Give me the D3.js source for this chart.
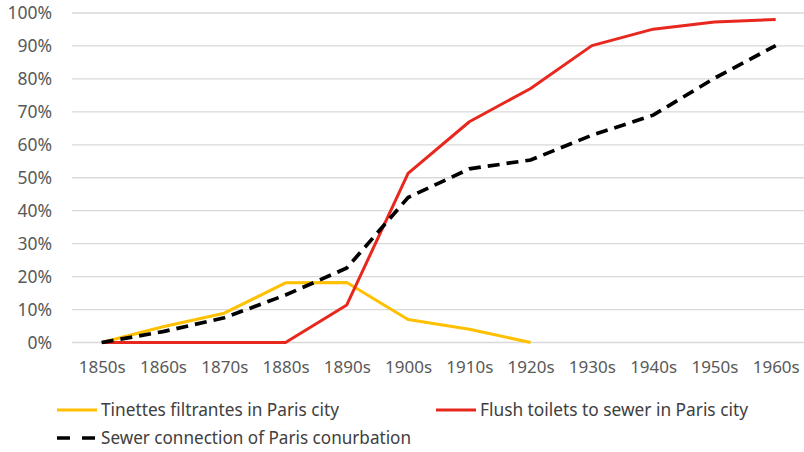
<!DOCTYPE html>
<html><head><meta charset="utf-8">
<script src="https://cdn.jsdelivr.net/npm/d3@7"></script>
<style>body{margin:0;background:#fff}svg{display:block}</style>
</head><body><svg id="c" width="804" height="452"></svg>
<script>
const categories = ["1850s","1860s","1870s","1880s","1890s","1900s","1910s","1920s","1930s","1940s","1950s","1960s"];
const tinettes = [0, 0.048, 0.089, 0.181, 0.182, 0.070, 0.040, 0.0, null, null, null, null];
const flush = [0, 0, 0, 0, 0.114, 0.513, 0.670, 0.771, 0.901, 0.951, 0.973, 0.980];
const sewer = [0, 0.033, 0.075, 0.144, 0.226, 0.440, 0.527, 0.554, 0.629, 0.690, 0.802, 0.901];
const yTicks = [0,0.1,0.2,0.3,0.4,0.5,0.6,0.7,0.8,0.9,1.0];
const seriesNames = ["Tinettes filtrantes in Paris city","Flush toilets to sewer in Paris city","Sewer connection of Paris conurbation"];

const svg = d3.select("#c");
const x = d3.scalePoint().domain(categories).range([101.7, 775.7]);
const y = d3.scaleLinear().domain([0,1]).range([342.5, 13]);

svg.append("g").selectAll("line").data(yTicks).join("line")
  .attr("x1",72).attr("x2",804).attr("y1",d=>y(d)).attr("y2",d=>y(d))
  .attr("stroke","#d9d9d9").attr("stroke-width",1.3);

const yAxis = svg.append("g").attr("transform","translate(60,0)")
  .call(d3.axisLeft(y).tickValues(yTicks).tickFormat(d3.format(".0%")).tickSize(0).tickPadding(8));
yAxis.select(".domain").remove();
yAxis.selectAll("text").attr("font-family","Noto Sans").attr("font-size",17.5).attr("fill","#595959");

const xAxis = svg.append("g").attr("transform","translate(0,358)")
  .call(d3.axisBottom(x).tickSize(0).tickPadding(0));
xAxis.select(".domain").remove();
xAxis.selectAll("text").attr("font-family","Noto Sans").attr("font-size",17).attr("fill","#595959").attr("dy","0.9em");

const line = d3.line().defined(d=>d[1]!==null).x(d=>x(d[0])).y(d=>y(d[1]));
const mk = arr => categories.map((c,i)=>[c,arr[i]]);

svg.append("path").datum(mk(tinettes)).attr("d",line).attr("fill","none")
  .attr("stroke","#FFC000").attr("stroke-width",3).attr("stroke-linejoin","round");
svg.append("path").datum(mk(flush)).attr("d",line).attr("fill","none")
  .attr("stroke","#E8281E").attr("stroke-width",3).attr("stroke-linejoin","round");
svg.append("path").datum(mk(sewer)).attr("d",line).attr("fill","none")
  .attr("stroke","#000").attr("stroke-width",3.7).attr("stroke-dasharray","12,7");

const leg = [
  {name:seriesNames[0], color:"#FFC000", dash:null, x:57, y:410, w:238},
  {name:seriesNames[1], color:"#E8281E", dash:null, x:436, y:410, w:268},
  {name:seriesNames[2], color:"#000", dash:"13,12", x:57, y:438, w:310}
];
const lg = svg.append("g").selectAll("g").data(leg).join("g");
lg.append("line").attr("x1",d=>d.x).attr("x2",d=>d.x+40).attr("y1",d=>d.y).attr("y2",d=>d.y)
  .attr("stroke",d=>d.color).attr("stroke-width",d=>d.dash?3.7:3).attr("stroke-dasharray",d=>d.dash);
lg.append("text").attr("x",d=>d.x+44).attr("y",d=>d.y).attr("dy","0.35em")
  .attr("font-family","Liberation Sans Narrow, Noto Sans").attr("font-size",18.5).attr("fill","#404040")
  .attr("textLength",d=>d.w).attr("lengthAdjust","spacingAndGlyphs")
  .text(d=>d.name);
</script></body></html>
